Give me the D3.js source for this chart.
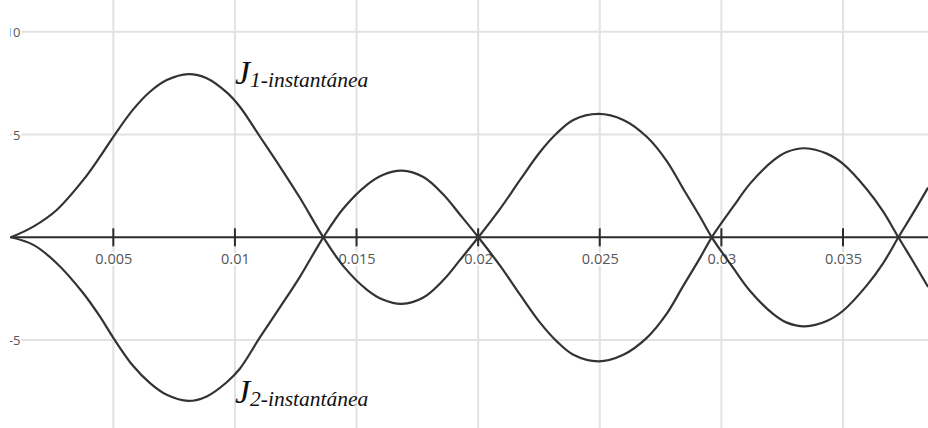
<!DOCTYPE html>
<html>
<head>
<meta charset="utf-8">
<script src="https://cdn.jsdelivr.net/npm/d3@7/dist/d3.min.js"></script>
<style>
  html, body { margin: 0; padding: 0; background: #fff; }
  svg { display: block; }
</style>
</head>
<body>
<svg id="chart" width="928" height="428"></svg>
<script>
// Time samples (s) and instantaneous current densities
const tiempo = [
  0.000794, 0.001711, 0.002673, 0.003766, 0.004453, 0.005000, 0.005810, 0.006509, 0.007196, 0.008084,
  0.008840, 0.009663, 0.010210, 0.011032, 0.011855, 0.012677, 0.013635,
  0.014457, 0.015419, 0.016102, 0.016859, 0.017747, 0.018569, 0.019256, 0.020008,
  0.020900, 0.021723, 0.022545, 0.023232, 0.023914, 0.024942, 0.025970, 0.026932, 0.027755, 0.028438,
  0.029124, 0.029605,
  0.030493, 0.031180, 0.032138, 0.032689, 0.033441, 0.034334, 0.035016, 0.035979, 0.036661, 0.037278,
  0.037895, 0.038499
];
const j1Instantanea = [
  0, 0.52, 1.33, 2.79, 3.92, 4.89, 6.21, 7.08, 7.65, 7.94,
  7.74, 7.05, 6.34, 4.89, 3.43, 1.91, 0,
  -1.40, -2.54, -3.04, -3.24, -2.93, -2.08, -1.10, 0,
  1.38, 2.79, 4.15, 5.06, 5.71, 6.00, 5.71, 4.89, 3.71, 2.35,
  1.00, 0,
  -1.50, -2.61, -3.74, -4.15, -4.33, -4.07, -3.56, -2.34, -1.24, 0,
  1.20, 2.42
];
const j2Instantanea = [
  0, -0.37, -1.26, -2.72, -3.86, -4.89, -6.25, -7.09, -7.66, -7.96,
  -7.74, -7.05, -6.38, -4.86, -3.40, -1.91, 0,
  1.40, 2.54, 3.04, 3.24, 2.93, 2.08, 1.10, 0,
  -1.38, -2.79, -4.15, -5.06, -5.71, -6.03, -5.71, -4.89, -3.71, -2.35,
  -1.00, 0,
  1.50, 2.61, 3.74, 4.15, 4.33, 4.07, 3.56, 2.34, 1.24, 0,
  -1.20, -2.42
];
const xTicks = [0.005, 0.01, 0.015, 0.02, 0.025, 0.03, 0.035];
const xTickLabels = ["0.005", "0.01", "0.015", "0.02", "0.025", "0.03", "0.035"];
const yTicks = [10, 5, -5];
const yTickLabels = ["10", "5", "-5"];
// Curve annotations: subscript text and anchor point (t, value)
const curveNames = ["1-instantánea", "2-instantánea"];
const nameAnchorT = [0.0100, 0.0100];
const nameAnchorV = [7.45, -8.05];

const W = 928, H = 428;
const svg = d3.select("#chart");

const x = d3.scaleLinear().domain([0, 0.04]).range([-8.3, 964.6]);
const y = d3.scaleLinear().domain([0, 10]).range([237.3, 31.7]);

svg.append("defs").append("clipPath").attr("id", "view")
  .append("rect").attr("x", 10).attr("y", 0).attr("width", W - 10).attr("height", H);

const g = svg.append("g").attr("clip-path", "url(#view)");

// Grid
g.append("g").selectAll("line").data(xTicks).join("line")
  .attr("x1", d => x(d)).attr("x2", d => x(d))
  .attr("y1", 0).attr("y2", H)
  .attr("stroke", "#e2e2e2").attr("stroke-width", 2);
g.append("g").selectAll("line").data(yTicks).join("line")
  .attr("x1", 0).attr("x2", W)
  .attr("y1", d => y(d)).attr("y2", d => y(d))
  .attr("stroke", "#e2e2e2").attr("stroke-width", 2);

// Horizontal axis with ticks
const xAxis = d3.axisBottom(x)
  .tickValues(xTicks)
  .tickFormat((d, i) => xTickLabels[i])
  .tickSizeInner(0).tickSizeOuter(0).tickPadding(0);
const ax = g.append("g").attr("transform", `translate(0,${y(0)})`).call(xAxis);
ax.select(".domain").remove();
ax.selectAll(".tick line").remove();
ax.selectAll(".tick text")
  .attr("y", 27).attr("dy", 0)
  .attr("font-family", "'Open Sans', 'Liberation Sans', sans-serif")
  .attr("font-size", 14.5)
  .attr("fill", "#555")
  .attr("stroke", "#fff").attr("stroke-width", 4)
  .attr("paint-order", "stroke");

g.append("line")
  .attr("x1", 0).attr("x2", W)
  .attr("y1", y(0)).attr("y2", y(0))
  .attr("stroke", "#2b2b2b").attr("stroke-width", 2);
g.append("g").selectAll("line").data(xTicks).join("line")
  .attr("x1", d => x(d)).attr("x2", d => x(d))
  .attr("y1", y(0) - 9).attr("y2", y(0) + 9)
  .attr("stroke", "#2b2b2b").attr("stroke-width", 2);

// Vertical axis labels
g.append("g").selectAll("text").data(yTicks).join("text")
  .attr("x", 20.5).attr("y", d => y(d) + 5)
  .attr("text-anchor", "end")
  .attr("font-family", "'Open Sans', 'Liberation Sans', sans-serif")
  .attr("font-size", 13)
  .attr("fill", "#555")
  .attr("stroke", "#fff").attr("stroke-width", 4)
  .attr("paint-order", "stroke")
  .text((d, i) => yTickLabels[i]);

// Current density curves
const line = d3.line()
  .x((d, i) => x(tiempo[i]))
  .y(d => y(d))
  .curve(d3.curveCatmullRom.alpha(0.5));

[j1Instantanea, j2Instantanea].forEach(series => {
  g.append("path")
    .datum(series)
    .attr("d", line)
    .attr("fill", "none")
    .attr("stroke", "#333")
    .attr("stroke-width", 2.2)
    .attr("stroke-linejoin", "round");
});

// Curve names: J with subscript
curveNames.forEach((name, i) => {
  const t = g.append("text")
    .attr("x", x(nameAnchorT[i]))
    .attr("y", y(nameAnchorV[i]))
    .attr("font-family", "'Liberation Serif', 'Times New Roman', serif")
    .attr("font-style", "italic")
    .attr("fill", "#111");
  t.append("tspan").attr("font-size", 34).text("J");
  t.append("tspan").attr("font-size", 21.5).attr("dy", 3).text(name);
});
</script>
</body>
</html>
